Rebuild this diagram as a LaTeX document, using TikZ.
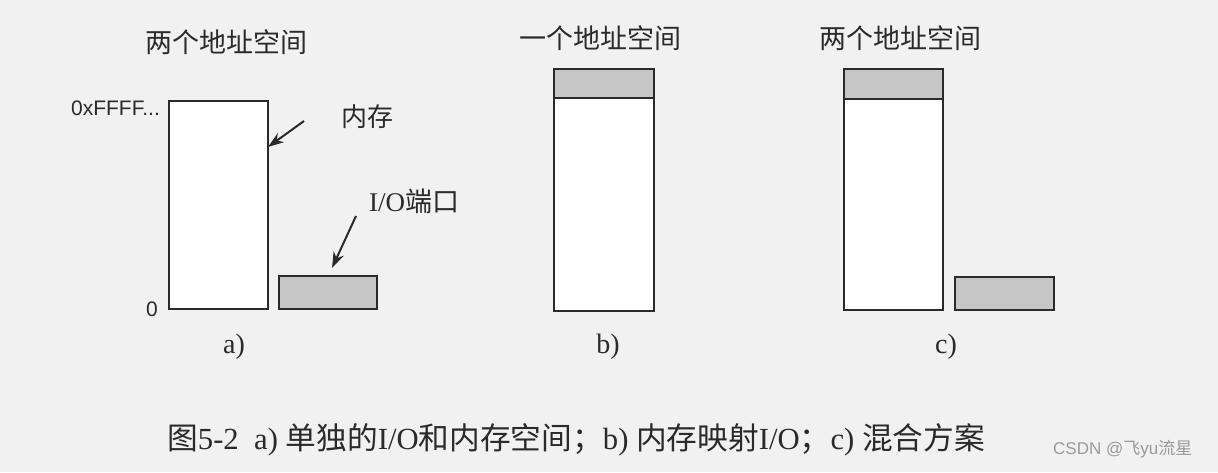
\documentclass[tikz,border=0pt]{standalone}
\usepackage{fontspec}
\setmainfont{Liberation Serif}
\newfontfamily\cjk{Noto Sans CJK SC}
\newfontfamily\lsans{Liberation Sans}
\usetikzlibrary{arrows.meta}
\definecolor{paper}{HTML}{F1F1F1}
\definecolor{ink}{HTML}{2A2A2A}
\definecolor{shade}{HTML}{C6C6C6}
\definecolor{wm}{HTML}{9A9A9A}
\begin{document}
\begin{tikzpicture}[x=1pt,y=-1pt,
  box/.style={draw=ink,line width=2pt,fill=white,inner sep=0pt,anchor=north west},
  iobox/.style={box,fill=shade},
  title/.style={text=ink,font=\cjk\fontsize{27}{30}\selectfont,inner sep=0pt},
  lbl/.style={text=ink,inner sep=0pt},
  pointer/.style={draw=ink,line width=2pt,-{Stealth[length=16pt,width=11pt]}}]
\fill[paper] (0,0) rectangle (1218,472);
\useasboundingbox (0,0) rectangle (1218,472);
% panel a
\node[title] (ta) at (226,42) {两个地址空间};
\node[box,minimum width=99pt,minimum height=208pt] (mema) at (168,100) {};
\node[iobox,minimum width=98pt,minimum height=33pt] (ioa) at (278,275) {};
\node[lbl,font=\lsans\fontsize{21}{24}\selectfont,anchor=east] (top) at (160,108) {0xFFFF...};
\node[lbl,font=\lsans\fontsize{21}{24}\selectfont] (zero) at (152,309) {0};
\node[lbl,font=\cjk\fontsize{26}{30}\selectfont,anchor=west] (nc) at (341,117) {内存};
\node[lbl,font=\fontsize{27}{30}\selectfont,anchor=west] (io) at (369,201) {I/O{\cjk 端口}};
\coordinate (nca) at (268,147);
\coordinate (ioarr) at (332,268);
\draw[pointer] (304,121) -- (nca);
\draw[pointer] (356,216) -- (ioarr);
\node[lbl,font=\fontsize{28}{30}\selectfont] (la) at (234,347) {a)};
% panel b
\node[title] (tb) at (600,38) {一个地址空间};
\node[box,minimum width=100pt,minimum height=242pt] (memb) at (553,68) {};
\node[iobox,minimum width=100pt,minimum height=29pt] (iob) at (553,68) {};
\node[lbl,font=\fontsize{28}{30}\selectfont] (lb) at (608,347) {b)};
% panel c
\node[title] (tc) at (900,38) {两个地址空间};
\node[box,minimum width=99pt,minimum height=241pt] (memc) at (843,68) {};
\node[iobox,minimum width=99pt,minimum height=30pt] (ioc) at (843,68) {};
\node[iobox,minimum width=99pt,minimum height=33pt] (ioc2) at (954,276) {};
\node[lbl,font=\fontsize{28}{30}\selectfont] (lc) at (946,347) {c)};
% caption
\node[lbl,anchor=west,font=\fontsize{30.7}{33}\selectfont] (cap) at (167,440)
  {{\cjk 图}5-2\ \ a) {\cjk 单独的}I/O{\cjk 和内存空间；}b) {\cjk 内存映射}I/O{\cjk ；}c) {\cjk 混合方案}};
\node[lbl,anchor=west,text=wm,font=\lsans\fontsize{17}{20}\selectfont] (wmk) at (1053,449)
  {CSDN @{\cjk 飞}yu{\cjk 流星}};
\end{tikzpicture}
\end{document}
